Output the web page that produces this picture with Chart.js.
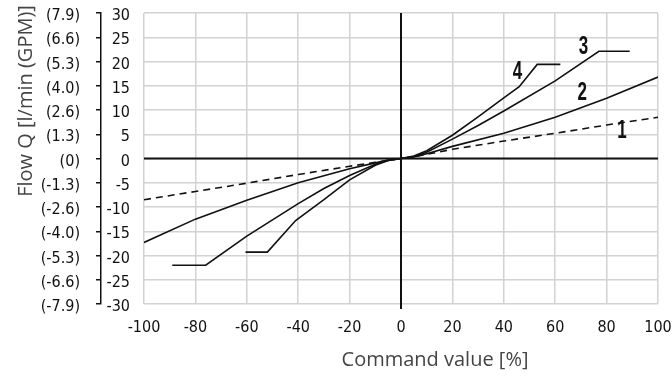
<!DOCTYPE html>
<html>
<head>
<meta charset="utf-8">
<script src="https://cdn.jsdelivr.net/npm/chart.js@4.4.1/dist/chart.umd.min.js"></script>
<style>
  html, body { margin: 0; padding: 0; background: #fff; }
</style>
</head>
<body>
<canvas id="flow" width="672" height="383"></canvas>
<script>
// command value [%] / flow [l/min] per spool size
const cmd1 = [-100, -80, -60, -40, -20, -10, -5, 0, 5, 10, 20, 40, 60, 80, 100];
const flow1 = [-8.5, -6.8, -5.1, -3.3, -1.6, -0.8, -0.35, 0, 0.35, 0.85, 1.9, 3.6, 5.2, 6.9, 8.5];

const cmd2 = [-100, -80, -60, -40, -20, -10, -5, 0, 5, 10, 20, 40, 60, 80, 100];
const flow2 = [-17.3, -12.5, -8.6, -5.0, -2.1, -0.9, -0.3, 0, 0.3, 1.0, 2.5, 5.2, 8.5, 12.4, 16.8];

const cmd3 = [-89, -76, -60, -40, -30, -20, -10, -5, 0, 5, 10, 20, 30, 40, 60, 77, 89];
const flow3 = [-22.0, -22.0, -16.0, -9.3, -6.2, -3.5, -1.2, -0.4, 0, 0.4, 1.3, 4.0, 6.8, 9.8, 16.0, 22.1, 22.1];

const cmd4 = [-60.5, -52, -41, -30, -20, -10, -5, 0, 5, 10, 20, 30, 40, 46, 53, 62];
const flow4 = [-19.3, -19.3, -12.8, -8.5, -4.4, -1.4, -0.4, 0, 0.5, 1.6, 4.8, 8.6, 12.5, 14.8, 19.4, 19.4];

const lpmTicks = [30, 25, 20, 15, 10, 5, 0, -5, -10, -15, -20, -25, -30];
const gpmTicks = ['(7.9)', '(6.6)', '(5.3)', '(4.0)', '(2.6)', '(1.3)', '(0)',
  '(-1.3)', '(-2.6)', '(-4.0)', '(-5.3)', '(-6.6)', '(-7.9)'];

const curveNames = ['1', '2', '3', '4'];

const pts = (xs, ys) => xs.map((v, i) => ({ x: v, y: ys[i] }));

const tickFont = { family: '"Liberation Sans Narrow", "DejaVu Sans Condensed", sans-serif', size: 16 };
const gridGrey = '#d2d2d2';

// keep the plot box fixed; labels may hang over its edges
const fitBox = (w, h) => (s) => {
  if (w) s.width = w;
  if (h) s.height = h;
  s.paddingTop = 0; s.paddingBottom = 0;
  s.paddingLeft = 0; s.paddingRight = 0;
};

// zero axes, curve numbers and axis titles
const overlay = {
  id: 'overlay',
  beforeDatasetsDraw(chart) {
    const { ctx, chartArea: a, scales: { x, y } } = chart;
    const x0 = x.getPixelForValue(0), y0 = y.getPixelForValue(0);
    ctx.save();
    ctx.strokeStyle = '#111';
    ctx.lineWidth = 2;
    ctx.beginPath();
    ctx.moveTo(a.left, y0); ctx.lineTo(a.right, y0);
    ctx.moveTo(x0, a.top); ctx.lineTo(x0, a.bottom + 5);
    ctx.stroke();
    ctx.restore();
  },
  afterDatasetsDraw(chart) {
    const { ctx, scales: { x, y } } = chart;
    const tags = [[86, 5.7], [70.5, 13.5], [71, 23], [45.3, 17.8]];
    ctx.save();
    ctx.fillStyle = '#111';
    ctx.font = 'bold 25px "Liberation Sans", sans-serif';
    ctx.textAlign = 'center';
    ctx.textBaseline = 'middle';
    tags.forEach(([tx, ty], i) => {
      ctx.save();
      ctx.translate(x.getPixelForValue(tx), y.getPixelForValue(ty));
      ctx.scale(0.68, 1);
      ctx.fillText(curveNames[i], 0, 0);
      ctx.restore();
    });
    ctx.restore();
  },
  afterDraw(chart) {
    const { ctx, chartArea: a } = chart;
    ctx.save();
    ctx.fillStyle = '#444';
    ctx.font = '20px "Open Sans", sans-serif';
    ctx.textAlign = 'center';
    ctx.textBaseline = 'alphabetic';
    ctx.fillText('Command value [%]', (a.left + a.right) / 2 + 34, 366);
    ctx.translate(32, a.top + 88);
    ctx.rotate(-Math.PI / 2);
    ctx.fillText('Flow Q [l/min (GPM)]', 0, 0);
    ctx.restore();
  }
};

const line = (data, dash) => ({
  data,
  borderColor: '#111',
  borderWidth: 1.6,
  borderDash: dash || [],
  pointRadius: 0,
  pointHoverRadius: 0,
  tension: 0,
  showLine: true,
  fill: false
});

new Chart(document.getElementById('flow'), {
  type: 'scatter',
  data: {
    datasets: [
      line(pts(cmd1, flow1), [7, 5]),
      line(pts(cmd2, flow2)),
      line(pts(cmd3, flow3)),
      line(pts(cmd4, flow4))
    ]
  },
  options: {
    responsive: false,
    animation: false,
    layout: { autoPadding: false, padding: { top: 13, right: 14, left: 0, bottom: 0 } },
    plugins: { legend: { display: false }, tooltip: { enabled: false } },
    scales: {
      x: {
        type: 'linear',
        min: -100,
        max: 100,
        afterFit: fitBox(0, 79),
        border: { display: false },
        grid: {
          color: gridGrey,
          lineWidth: 1.5,
          drawTicks: true,
          tickLength: 5,
          tickColor: 'rgba(0,0,0,0)'
        },
        ticks: { stepSize: 20, color: '#111', font: tickFont, padding: 9, maxRotation: 0 }
      },
      y: {
        type: 'linear',
        position: 'left',
        weight: 0,
        min: -30,
        max: 30,
        afterFit: fitBox(43, 0),
        border: { display: false },
        grid: { color: gridGrey, lineWidth: 1.5, drawTicks: false },
        ticks: { stepSize: 5, color: '#111', font: tickFont, padding: 14, labelOffset: 3 }
      },
      gpm: {
        type: 'linear',
        position: 'left',
        weight: 1,
        min: -30,
        max: 30,
        afterFit: fitBox(101, 0),
        border: { display: true, color: '#111', width: 1.5 },
        grid: { drawOnChartArea: false, drawTicks: true, tickLength: 5, color: '#111', lineWidth: 1.5 },
        ticks: {
          stepSize: 5,
          color: '#111',
          font: tickFont,
          padding: 16,
          labelOffset: 3,
          callback: (v) => gpmTicks[lpmTicks.indexOf(v)]
        }
      }
    }
  },
  plugins: [overlay]
});
</script>
</body>
</html>
